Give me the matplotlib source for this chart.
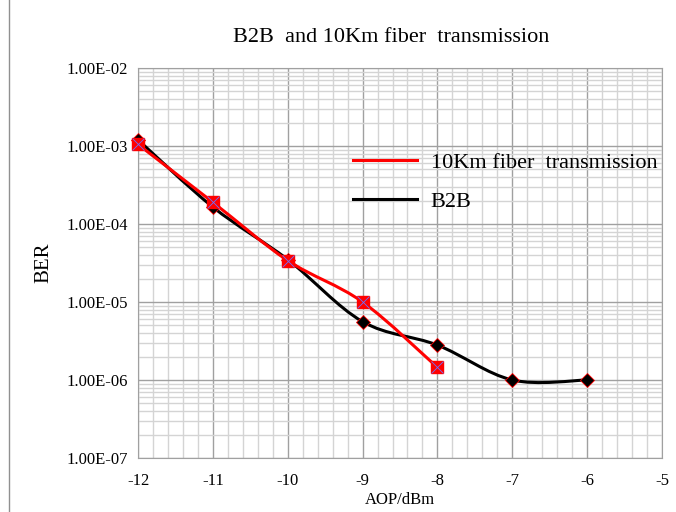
import matplotlib
matplotlib.use("Agg")
import matplotlib.pyplot as plt
import numpy as np
from matplotlib.path import Path
from matplotlib.patches import PathPatch
from matplotlib.lines import Line2D
from matplotlib.ticker import FuncFormatter, LogLocator, MultipleLocator

plt.rcParams["font.family"] = ["Liberation Serif", "DejaVu Serif"]

aop = [-12, -11, -10, -9, -8, -7, -6]
ber_b2b = [1.2e-3, 1.65e-4, 3.5e-5, 5.6e-6, 2.8e-6, 1.0e-6, 1.0e-6]

aop_fiber = [-12, -11, -10, -9, -8]
ber_fiber = [1.05e-3, 1.9e-4, 3.4e-5, 1.0e-5, 1.45e-6]

x_ticks = [-12, -11, -10, -9, -8, -7, -6, -5]

title = "B2B  and 10Km fiber  transmission"
label_fiber = "10Km fiber  transmission"
label_b2b = "B2B"


def smooth_path(xs, ys):
    """Bezier path through the points, built in (x, log10 y) space."""
    pts = np.column_stack([np.asarray(xs, float), np.log10(ys)])
    padded = np.vstack([pts[0], pts, pts[-1]])
    verts = [pts[0]]
    codes = [Path.MOVETO]
    for i in range(len(pts) - 1):
        p0, p1, p2, p3 = padded[i], padded[i + 1], padded[i + 2], padded[i + 3]
        verts += [p1 + (p2 - p0) / 6.0, p2 - (p3 - p1) / 6.0, p2]
        codes += [Path.CURVE4] * 3
    verts = np.array(verts)
    verts[:, 1] = 10.0 ** verts[:, 1]
    return Path(verts, codes)


fig = plt.figure(figsize=(6.76, 5.12), dpi=100)
ax = fig.add_axes([138 / 676, 54 / 512, 524 / 676, 390 / 512])

ax.set_yscale("log")
ax.set_xlim(-12, -5)
ax.set_ylim(1e-7, 1e-2)

ax.xaxis.set_major_locator(MultipleLocator(1))
ax.xaxis.set_minor_locator(MultipleLocator(0.2))
ax.yaxis.set_major_locator(LogLocator(base=10, numticks=10))
ax.yaxis.set_minor_locator(LogLocator(base=10, subs=np.arange(2, 10), numticks=20))
ax.grid(which="minor", color="#d4d4d4", lw=1.0)
ax.grid(which="major", color="#a0a0a0", lw=1.0)
ax.set_axisbelow(True)
for side in ax.spines.values():
    side.set_color("#a0a0a0")

ax.yaxis.set_major_formatter(FuncFormatter(lambda v, _: f"{v:.2E}"))
ax.set_xticks(x_ticks)
ax.set_xticklabels([str(t) for t in x_ticks])
ax.tick_params(which="both", length=0)
ax.tick_params(axis="y", labelsize=12, pad=7)
ax.tick_params(axis="x", labelsize=12, pad=11)

# B2B curve first, fiber curve on top
ax.add_patch(PathPatch(smooth_path(aop, ber_b2b), fill=False, ec="black", lw=2.2, zorder=3))
ax.plot(aop, ber_b2b, ls="none", marker="D", ms=7.5, mfc="black", mec="red", mew=0.6,
        zorder=4, clip_on=False)

ax.add_patch(PathPatch(smooth_path(aop_fiber, ber_fiber), fill=False, ec="red", lw=2.2, zorder=5))
ax.plot(aop_fiber, ber_fiber, ls="none", marker="s", ms=9, mfc="red", mec="red",
        zorder=6, clip_on=False)
ax.plot(aop_fiber, ber_fiber, ls="none", marker="x", ms=8, mec="#7070ff", mew=0.6,
        zorder=7, clip_on=False)

ax.set_ylabel("BER", fontsize=15, labelpad=10)
ax.set_xlabel("AOP/dBm", fontsize=12, labelpad=2)

fig.text(391 / 676, 1 - 37 / 512, title, fontsize=16, ha="center", va="center")

handles = [Line2D([], [], color="red", lw=2.2), Line2D([], [], color="black", lw=2.2)]
fig.legend(handles, [label_fiber, label_b2b], loc="upper left",
           bbox_to_anchor=(333 / 676, 1 - 132 / 512), frameon=False,
           fontsize=16, handlelength=2.9, handletextpad=0.6, labelspacing=0.85)

# chart area border on the left
fig.add_artist(Line2D([9 / 676, 9 / 676], [0, 1], color="#909090", lw=1.0))

fig.savefig("out.png", dpi=100)
